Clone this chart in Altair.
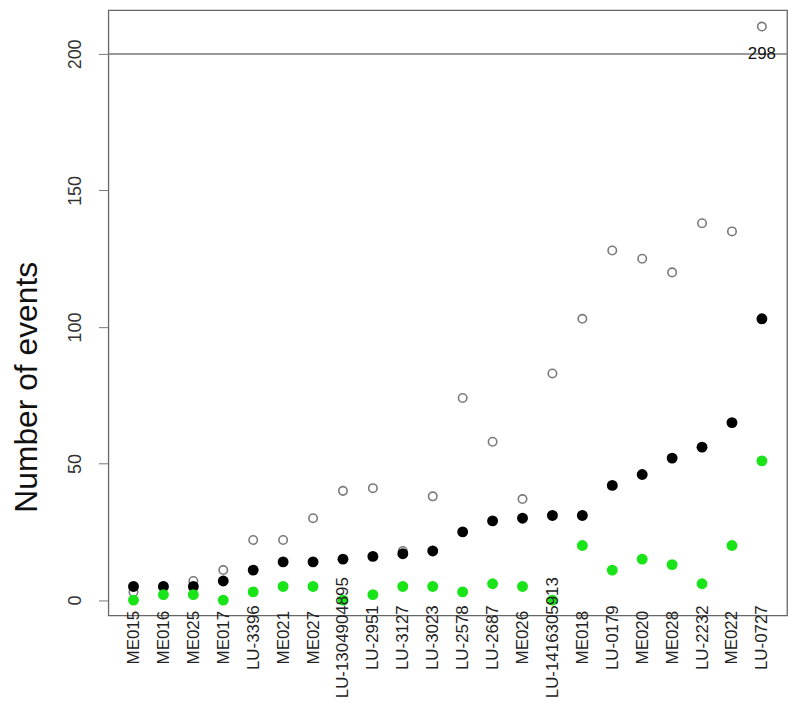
import altair as alt
import pandas as pd

categories = ["ME015", "ME016", "ME025", "ME017", "LU-3396", "ME021", "ME027",
              "LU-1304904895", "LU-2951", "LU-3127", "LU-3023", "LU-2578",
              "LU-2687", "ME026", "LU-1416305913", "ME018", "LU-0179", "ME020",
              "ME028", "LU-2232", "ME022", "LU-0727"]
open_vals = [3, 5, 7, 11, 22, 22, 30, 40, 41, 18, 38, 74, 58, 37, 83, 103, 128, 125, 120, 138, 135, 298]
black_vals = [5, 5, 5, 7, 11, 14, 14, 15, 16, 17, 18, 25, 29, 30, 31, 31, 42, 46, 52, 56, 65, 103]
green_vals = [0, 2, 2, 0, 3, 5, 5, 0, 2, 5, 5, 3, 6, 5, 0, 20, 11, 15, 13, 6, 20, 51]
y_ticks = [0, 50, 100, 150, 200]
cap_line = 200      # values above this are drawn at cap_plot and labelled
cap_plot = 210

FONT = "Liberation Sans"

rows = []
for c, o, b, g in zip(categories, open_vals, black_vals, green_vals):
    rows.append({"cat": c, "series": "open", "value": o, "plot": o if o <= cap_line else cap_plot})
    rows.append({"cat": c, "series": "black", "value": b, "plot": b})
    rows.append({"cat": c, "series": "green", "value": g, "plot": g})
df = pd.DataFrame(rows)

xscale = alt.Scale(type="point", domain=categories, padding=0.84)
yscale = alt.Scale(domain=[-5.57, 216.0], nice=False, zero=False)

x_axis = alt.Axis(title=None, labelAngle=-90, labelAlign="center", labelBaseline="middle",
                  labelPadding=22, ticks=False, domain=False, grid=False,
                  labelFont=FONT, labelFontSize=17, labelColor="#222",
                  labelOverlap=False, labelLimit=300, zindex=1)
y_axis = alt.Axis(title="Number of events", values=y_ticks, labelAngle=-90,
                  labelAlign="center", labelBaseline="middle", tickSize=10,
                  labelPadding=23, domain=False, grid=False, tickColor="#777",
                  labelFont=FONT, labelFontSize=18, labelColor="#333",
                  titleFont=FONT, titleFontSize=32, titleFontWeight="normal",
                  titleColor="#111", titleAngle=270, titleAlign="center",
                  titleBaseline="middle", titleX=-82, titleY=379)

base = alt.Chart(df).encode(
    x=alt.X("cat:N", scale=xscale, axis=x_axis, sort=categories),
    y=alt.Y("plot:Q", scale=yscale, axis=y_axis),
)

open_pts = base.transform_filter(alt.datum.series == "open").mark_point(
    shape="circle", filled=False, size=72, stroke="#7a7a7a", strokeWidth=1.6, opacity=1)
black_pts = base.transform_filter(alt.datum.series == "black").mark_circle(
    size=120, color="#000000", opacity=1)
green_pts = base.transform_filter(alt.datum.series == "green").mark_circle(
    size=120, color="#18e418", opacity=1)

cap_rule = alt.Chart(pd.DataFrame({"plot": [cap_line]})).mark_rule(
    color="#7a7a7a", strokeWidth=1.5).encode(
    y=alt.Y("plot:Q", scale=yscale, axis=y_axis))

cap_text = alt.Chart(df).transform_filter(
    (alt.datum.series == "open") & (alt.datum.value > cap_line)
).mark_text(font=FONT, fontSize=17, color="#111", baseline="middle", dy=0).encode(
    x=alt.X("cat:N", scale=xscale, sort=categories, axis=x_axis),
    y=alt.Y("plot:Q", scale=yscale, axis=y_axis),
    text=alt.Text("value:Q"),
).transform_calculate(plot=str(cap_line))

chart = alt.layer(cap_rule, open_pts, black_pts, green_pts, cap_text).properties(
    width=683, height=609,
    autosize=alt.AutoSizeParams(type="none"),
    padding={"left": 101, "top": 0, "right": 5, "bottom": 82},
    background="white",
).configure_view(stroke="#666666", strokeWidth=1.3)

chart.save("out.html", embed_options={"renderer": "svg", "actions": False})
